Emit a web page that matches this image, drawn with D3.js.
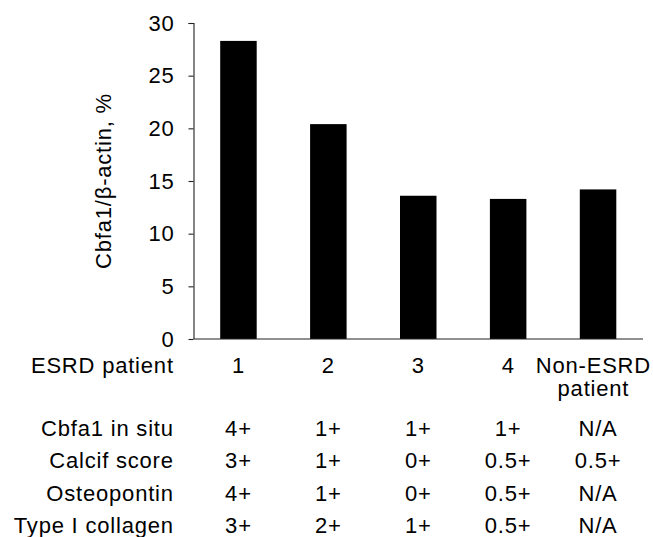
<!DOCTYPE html>
<html>
<head>
<meta charset="utf-8">
<script src="https://cdn.jsdelivr.net/npm/d3@7"></script>
<style>
  html, body { margin: 0; padding: 0; background: #fff; }
  svg { display: block; }
  text { font-family: "Liberation Sans", Arial, Helvetica, sans-serif; font-size: 22px; letter-spacing: 0.8px; fill: #000; }
</style>
</head>
<body>
<svg id="chart" width="653" height="537"></svg>
<script>
// ---- data ----
const categories = ["1", "2", "3", "4", "Non-ESRD patient"];
const values = [28.3, 20.4, 13.6, 13.3, 14.2];
const yTicks = [0, 5, 10, 15, 20, 25, 30];
const yLabel = "Cbfa1/\u03B2-actin, %";
const xRowLabel = "ESRD patient";
const rowLabels = ["Cbfa1 in situ", "Calcif score", "Osteopontin", "Type I collagen"];
const cbfa1InSitu = ["4+", "1+", "1+", "1+", "N/A"];
const calcifScore = ["3+", "1+", "0+", "0.5+", "0.5+"];
const osteopontin = ["4+", "1+", "0+", "0.5+", "N/A"];
const typeICollagen = ["3+", "2+", "1+", "0.5+", "N/A"];
const tableRows = [cbfa1InSitu, calcifScore, osteopontin, typeICollagen];

// ---- layout ----
const W = 653, H = 537;
const margin = { left: 193.5, top: 23, right: 10, bottom: 198 };
const plotW = W - margin.left - margin.right;
const plotH = H - margin.top - margin.bottom;
const labelRight = 173.8;         // right edge of row labels
const catBaseline = 373;          // baseline of category row
const catLineGap = 23;
const rowBaseline0 = 436;
const rowGap = 32.4;

const svg = d3.select("#chart");
const g = svg.append("g").attr("transform", `translate(${margin.left},${margin.top})`);

const x = d3.scaleBand().domain(categories).range([0, plotW]).paddingInner(0.594).paddingOuter(0.297);
const y = d3.scaleLinear().domain([0, 30]).range([plotH, 0]);

// bars
g.selectAll("rect.bar").data(values).join("rect")
  .attr("class", "bar")
  .attr("x", (d, i) => x(categories[i]))
  .attr("width", x.bandwidth())
  .attr("y", d => y(d))
  .attr("height", d => plotH - y(d))
  .attr("fill", "#000");

// y axis
const yAxis = g.append("g").call(d3.axisLeft(y).tickValues(yTicks).tickSize(5).tickPadding(14).tickFormat(d3.format("d")));
yAxis.select(".domain").attr("stroke", "#222").attr("stroke-width", 1.1).attr("d", `M-5,0.5H0.5V${plotH}`);
yAxis.selectAll(".tick line").attr("stroke", "#222").attr("stroke-width", 1.1);
yAxis.selectAll(".tick text").style("font-size", "22px").style("font-family", "'Liberation Sans', Arial, sans-serif").attr("fill", "#000");

// x axis line (no ticks)
const xAxis = g.append("g").attr("transform", `translate(0,${plotH})`)
  .call(d3.axisBottom(x).tickSize(0).tickFormat(""));
xAxis.select(".domain").attr("stroke", "#222").attr("stroke-width", 1.1).attr("d", `M0,0H${plotW}`);
xAxis.selectAll(".tick").remove();

// y label
svg.append("text")
  .attr("transform", `translate(111,${margin.top + plotH / 2}) rotate(-90)`)
  .attr("text-anchor", "middle")
  .text(yLabel);

// category row
const cx = c => margin.left + x(c) + x.bandwidth() / 2;
svg.append("text").attr("x", labelRight).attr("y", catBaseline).attr("text-anchor", "end").text(xRowLabel);

categories.forEach(c => {
  const words = c === "Non-ESRD patient" ? ["Non-ESRD", "patient"] : [c];
  const t = svg.append("text").attr("text-anchor", "middle").attr("y", catBaseline);
  words.forEach((w, k) => {
    t.append("tspan").attr("x", cx(c)).attr("dy", k === 0 ? 0 : catLineGap).text(w);
  });
  // keep inside the picture
  const bb = t.node().getBBox();
  const over = bb.x + bb.width - (W - 2);
  if (over > 0) t.selectAll("tspan").attr("x", cx(c) - over);
});

// table rows
rowLabels.forEach((lab, r) => {
  const yy = rowBaseline0 + r * rowGap;
  svg.append("text").attr("x", labelRight).attr("y", yy).attr("text-anchor", "end").text(lab);
  tableRows[r].forEach((v, i) => {
    svg.append("text").attr("x", cx(categories[i])).attr("y", yy).attr("text-anchor", "middle").text(v);
  });
});
</script>
</body>
</html>
